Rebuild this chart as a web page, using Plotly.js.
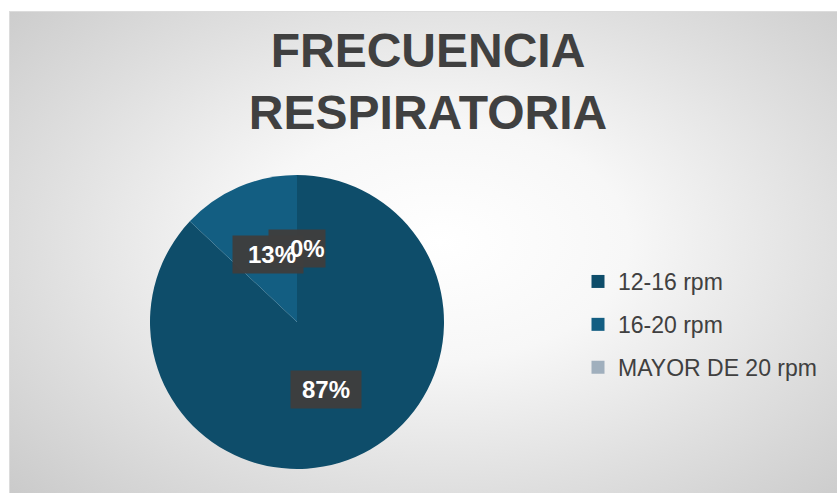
<!DOCTYPE html>
<html>
<head>
<meta charset="utf-8">
<script src="https://cdn.plot.ly/plotly-3.0.1.min.js"></script>
<style>
  html, body { margin: 0; padding: 0; background: #ffffff; width: 837px; height: 493px; overflow: hidden; }
  #frame {
    position: absolute; left: 9px; top: 11px; width: 840px; height: 490px;
    border-top: 1px solid #dcdcdc; border-left: 1px solid #dcdcdc;
    background: radial-gradient(ellipse 75% 80% at 430px 230px, #ffffff 0%, #f7f7f7 30%, #dedede 65%, #c6c6c6 100%);
  }
  #chart { position: absolute; left: 0; top: 0; width: 837px; height: 493px; }
</style>
</head>
<body>
<div id="frame"></div>
<div id="chart"></div>
<script>
const categories = ["12-16 rpm", "16-20 rpm", "MAYOR DE 20 rpm"];
const values = [87, 13, 0];
const percentLabels = ["87%", "13%", "0%"];
const colors = ["#0e4d6a", "#135e82", "#a0afbd"];

const W = 837, H = 493;
const pieDomainX = [150 / W, 444 / W];
const pieDomainY = [1 - 469 / H, 1 - 175 / H];
const labelFont = { family: "Liberation Sans, Arial, sans-serif", size: 24, color: "#ffffff" };

const traces = [{
  type: "pie",
  labels: categories,
  values: values,
  sort: false,
  direction: "clockwise",
  rotation: 0,
  marker: { colors: colors, line: { width: 0 } },
  textinfo: "none",
  hoverinfo: "label+percent",
  showlegend: false,
  domain: { x: pieDomainX, y: pieDomainY }
}];

// Legend entries (dummy traces so the legend spacing can match)
categories.forEach((c, i) => {
  traces.push({
    type: "scatter", mode: "markers", x: [null], y: [null],
    name: c, legendgroup: "g" + i,
    marker: { symbol: "square", size: 13, color: colors[i] },
    xaxis: "x", yaxis: "y", hoverinfo: "skip"
  });
});

// Data label positions from slice mid-angles (half radius)
const total = values.reduce((a, b) => a + b, 0);
const cx = (pieDomainX[0] + pieDomainX[1]) / 2 * W;
const cyTop = (1 - (pieDomainY[0] + pieDomainY[1]) / 2) * H;
const R = Math.min((pieDomainX[1] - pieDomainX[0]) * W, (pieDomainY[1] - pieDomainY[0]) * H) / 2;
const textShift = [0, 4, 10];
let cum = 0;
const boxes = [], texts = [];
values.forEach((v, i) => {
  const mid = (cum + v / 2) / total * 2 * Math.PI;
  cum += v;
  const px = cx + Math.sin(mid) * R * 0.5;
  const py = cyTop - Math.cos(mid) * R * 0.5;
  const common = { xref: "paper", yref: "paper", x: px / W, y: 1 - py / H,
                   xanchor: "center", yanchor: "middle", showarrow: false };
  boxes.push(Object.assign({}, common, {
    text: "<b>" + percentLabels[i] + "</b>",
    font: Object.assign({}, labelFont, { color: "rgba(0,0,0,0)" }),
    bgcolor: "rgba(62,62,62,0.97)",
    width: percentLabels[i].length > 2 ? 68 : 54, height: 35
  }));
  texts.push(Object.assign({}, common, {
    text: "<b>" + percentLabels[i] + "</b>",
    font: labelFont, xshift: textShift[i]
  }));
});

const layout = {
  width: W, height: H,
  margin: { l: 0, r: 0, t: 0, b: 0 },
  paper_bgcolor: "rgba(0,0,0,0)",
  plot_bgcolor: "rgba(0,0,0,0)",
  title: {
    text: "<b>FRECUENCIA<br>RESPIRATORIA</b>",
    font: { family: "Liberation Sans, Arial, sans-serif", size: 48, color: "#404040" },
    x: 428 / W, xanchor: "center", xref: "paper",
    y: 1 - 67 / H, yanchor: "top", yref: "paper"
  },
  xaxis: { visible: false, domain: [0.9, 1] },
  yaxis: { visible: false, domain: [0.9, 1] },
  showlegend: true,
  legend: {
    x: 578 / W, xanchor: "left", y: 1 - 260 / H, yanchor: "top",
    traceorder: "grouped", tracegroupgap: 10,
    font: { family: "Liberation Sans, Arial, sans-serif", size: 23, color: "#404040" },
    bgcolor: "rgba(0,0,0,0)", itemwidth: 30
  },
  annotations: boxes.concat(texts)
};

Plotly.newPlot("chart", traces, layout, { displayModeBar: false, staticPlot: true });
</script>
</body>
</html>
